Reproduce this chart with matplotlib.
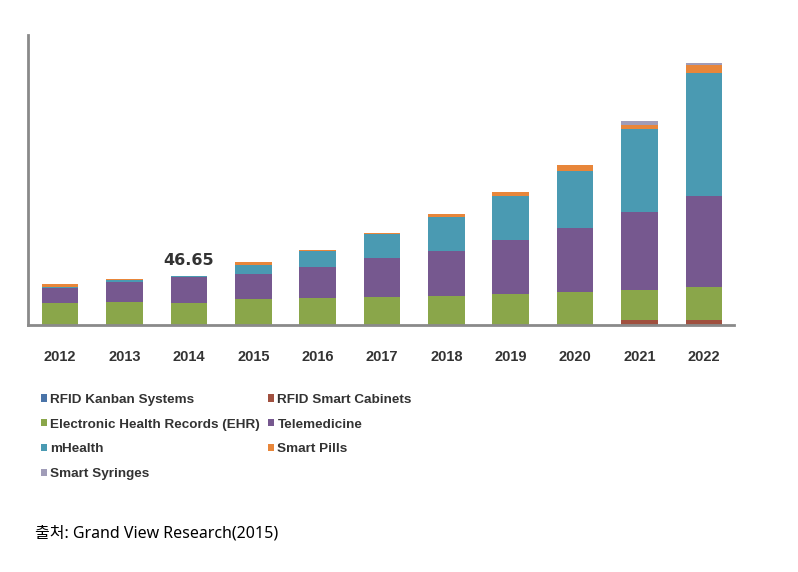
import numpy as np
import matplotlib
matplotlib.use("Agg")
import matplotlib.pyplot as plt

plt.rcParams['font.family'] = ['Liberation Sans', 'DejaVu Sans']

years = ['2012', '2013', '2014', '2015', '2016', '2017', '2018', '2019', '2020', '2021', '2022']

# stacked segments, bottom to top
kanban    = [0, 0, 0, 0, 0, 0, 0, 0, 0, 0, 0]
cabinets  = [0, 0, 0, 0, 0, 0, 0, 0, 0, 4.8, 4.8]
ehr       = [20.7, 22.2, 21.2, 24.5, 25.4, 27.0, 27.6, 29.5, 31.7, 28.6, 31.1]
telemed   = [14.6, 19.0, 24.2, 24.1, 29.5, 36.2, 43.1, 51.4, 60.4, 73.6, 86.3]
mhealth   = [0.5, 1.9, 1.2, 8.6, 15.8, 23.2, 32.4, 41.9, 53.9, 79.4, 118.0]
pills     = [2.9, 1.0, 0.0, 2.2, 0.5, 1.0, 2.2, 4.1, 5.7, 4.1, 7.0]
syringes  = [0, 0, 0, 0, 0, 0, 0, 0, 0, 3.1, 2.0]

labels = ['RFID Kanban Systems', 'RFID Smart Cabinets', 'Electronic Health Records (EHR)',
          'Telemedicine', 'mHealth', 'Smart Pills', 'Smart Syringes']
colors = ['#4a74a8', '#a0503f', '#8aa64a', '#76588f', '#4a9ab2', '#e8863a', '#a09cb8']

series = [kanban, cabinets, ehr, telemed, mhealth, pills, syringes]

fig = plt.figure(figsize=(7.98, 5.72), dpi=100)
ax = fig.add_axes([0.035, 0.432, 0.885, 0.507])

x = np.arange(len(years))
bottom = np.zeros(len(years))
handles = []
for vals, col, lab in zip(series, colors, labels):
    h = ax.bar(x, vals, 0.57, bottom=bottom, color=col, label=lab, linewidth=0)
    handles.append(h)
    bottom += np.array(vals)

ax.annotate('46.65', (2, bottom[2]), xytext=(0, 6), textcoords='offset points',
            ha='center', va='bottom', fontsize=11.5, fontweight='bold', color='#333333',
            family='DejaVu Sans')

ax.set_xlim(-0.5, 10.47)
ax.set_ylim(0, 276)
ax.set_xticks(x)
ax.set_xticklabels(years, fontsize=10.5, fontweight='bold', color='#333333')
ax.tick_params(axis='x', length=0, pad=18)
ax.set_yticks([])
for s in ['top', 'right']:
    ax.spines[s].set_visible(False)
for s in ['left', 'bottom']:
    ax.spines[s].set_color('#8a8a8a')
    ax.spines[s].set_linewidth(2)

order = [0, 2, 4, 6, 1, 3, 5]
fig.legend([handles[i] for i in order], [labels[i] for i in order],
           ncol=2, loc='upper left', bbox_to_anchor=(0.051, 0.3115), frameon=False,
           prop={'size': 9.7, 'weight': 'bold'}, handlelength=0.45, handleheight=0.45,
           handletextpad=0.25, columnspacing=0.6, labelspacing=0.95,
           borderaxespad=0, borderpad=0, labelcolor='#333333')

fig.text(0.044, 0.068, '출처: Grand View Research(2015)', fontsize=11.5,
         family=['Noto Sans', 'Noto Sans CJK KR'], va='center', ha='left', color='black')

fig.savefig('out.png', dpi=100)
